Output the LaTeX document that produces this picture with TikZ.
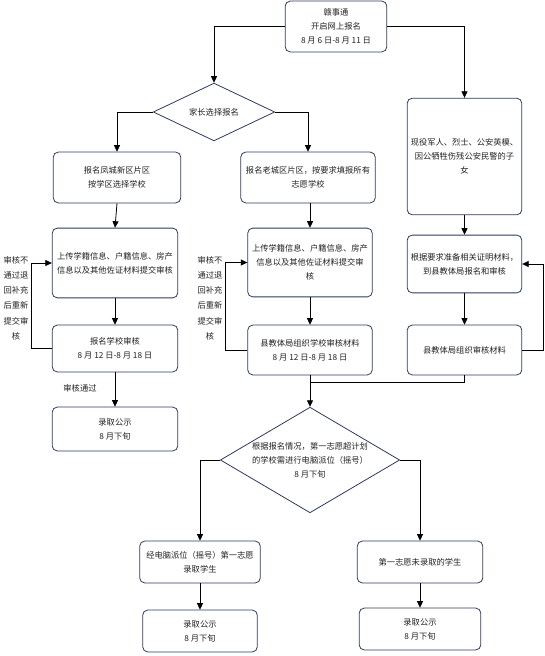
\documentclass[tikz,border=0pt]{standalone}
\usepackage{fontspec}
\newfontfamily\cjk{Noto Sans CJK SC}
\usetikzlibrary{arrows.meta,calc,positioning,shapes.geometric}
\definecolor{boxline}{HTML}{2F3A5E}
\definecolor{txt}{HTML}{222222}

\begin{document}
\begin{tikzpicture}[
  x=1bp, y=-1bp,
  font=\cjk\fontsize{8.3}{14}\selectfont,
  box/.style={draw=boxline, line width=0.8pt, rounded corners=5pt, fill=white,
              text=txt, align=center, inner sep=2pt},
  choice/.style={draw=boxline, line width=0.8pt, diamond, aspect=1.7, fill=white,
                 text=txt, align=center, inner sep=0pt},
  sig/.style={draw=black, line width=0.8pt, -{Triangle[length=6.5bp,width=6bp]}},
  wire/.style={draw=black, line width=0.8pt},
  side/.style={text=txt, align=center, inner sep=0pt,
               font=\cjk\fontsize{8.3}{15.3}\selectfont},
  lbl/.style={text=txt, inner sep=1pt},
]
\useasboundingbox (0,0) rectangle (545,656);

% ---------- start ----------
\node[box, minimum width=102, minimum height=51] (start) at (336,26.5)
  {赣事通\\开启网上报名\\8 月 6 日-8 月 11 日};
\node[choice, minimum width=122, minimum height=58] (pick) at (214,112)
  {家长选择报名};

% ---------- new district ----------
\node[box, minimum width=128, minimum height=51] (newA) at (117,177.5)
  {报名凤城新区片区\\按学区选择学校};
\node[box, minimum width=126, minimum height=70] (newB) at (115,263)
  {上传学籍信息、户籍信息、房产\\信息以及其他佐证材料提交审核};
\node[box, minimum width=126, minimum height=47] (newC) at (115,348.5)
  {报名学校审核\\8 月 12 日-8 月 18 日};
\node[box, minimum width=126, minimum height=44] (newD) at (115,429)
  {录取公示\\8 月下旬};
\node[side] (newback) at (16,298)
  {审核不\\通过退\\回补充\\后重新\\提交审\\核};

% ---------- old district ----------
\node[box, minimum width=135, minimum height=51] (oldA) at (308,177.5)
  {报名老城区片区，按要求填报所有\\志愿学校};
\node[box, minimum width=125, minimum height=69] (oldB) at (310,262.5)
  {上传学籍信息、户籍信息、房产\\信息以及其他佐证材料提交审\\核};
\node[box, minimum width=125, minimum height=50] (oldC) at (310,350)
  {县教体局组织学校审核材料\\8 月 12 日-8 月 18 日};
\node[side] (oldback) at (210,298)
  {审核不\\通过退\\回补充\\后重新\\提交审\\核};

% ---------- special group ----------
\node[box, minimum width=115, minimum height=117] (spcA) at (464.5,156.5)
  {现役军人、烈士、公安英模、\\因公牺牲伤残公安民警的子\\女};
\node[box, minimum width=115, minimum height=58] (spcB) at (464.5,264)
  {根据要求准备相关证明材料，\\到县教体局报名和审核};
\node[box, minimum width=115, minimum height=50] (spcC) at (464.5,350)
  {县教体局组织审核材料};

% ---------- lottery ----------
\coordinate (merge) at (310,382);
\node[choice, minimum width=180, minimum height=106] (lot) at (310,460)
  {根据报名情况，第一志愿超计划\\的学校需进行电脑派位（摇号）\\8 月下旬};
\node[box, minimum width=121, minimum height=42] (winA) at (200,562)
  {经电脑派位（摇号）第一志愿\\录取学生};
\node[box, minimum width=115, minimum height=42] (winB) at (200,631)
  {录取公示\\8 月下旬};
\node[box, minimum width=126, minimum height=42] (loseA) at (420,562)
  {第一志愿未录取的学生};
\node[box, minimum width=122, minimum height=42] (loseB) at (420,629)
  {录取公示\\8 月下旬};

% ---------- connectors ----------
\draw[sig] (start.west) -| (pick.north);
\draw[sig] (start.east) -| (spcA.north);
\draw[sig] (pick.west) -| (newA.north);
\draw[sig] (pick.east) -| (oldA.north);

\draw[sig] (newA.south) -- (newB.north);
\draw[sig] (newB.south) -- (newC.north);
\draw[sig] (newC.south) -- (newD.north);
\node[lbl] (pass) at (80,388) {审核通过};
\draw[sig] (newC.west) -- ++(-20,0) |- (newB.west);

\draw[sig] (oldA.south -| oldB.north) -- (oldB.north);
\draw[sig] (oldB.south) -- (oldC.north);
\draw[sig] (oldC.west) -- ++(-22,0) |- (oldB.west);

\draw[sig] (spcA.south) -- (spcB.north);
\draw[sig] (spcB.south) -- (spcC.north);
\draw[sig] (spcC.east) -- ++(21,0) |- (spcB.east);

\draw[wire] (oldC.south) -- (merge);
\draw[wire] (spcC.south) |- (merge);
\draw[sig] (merge) -- (lot.north);

\draw[sig] (lot.west) -| (winA.north);
\draw[sig] (lot.east) -| (loseA.north);
\draw[sig] (winA.south) -- (winB.north);
\draw[sig] (loseA.south) -- (loseB.north);

\end{tikzpicture}
\end{document}
